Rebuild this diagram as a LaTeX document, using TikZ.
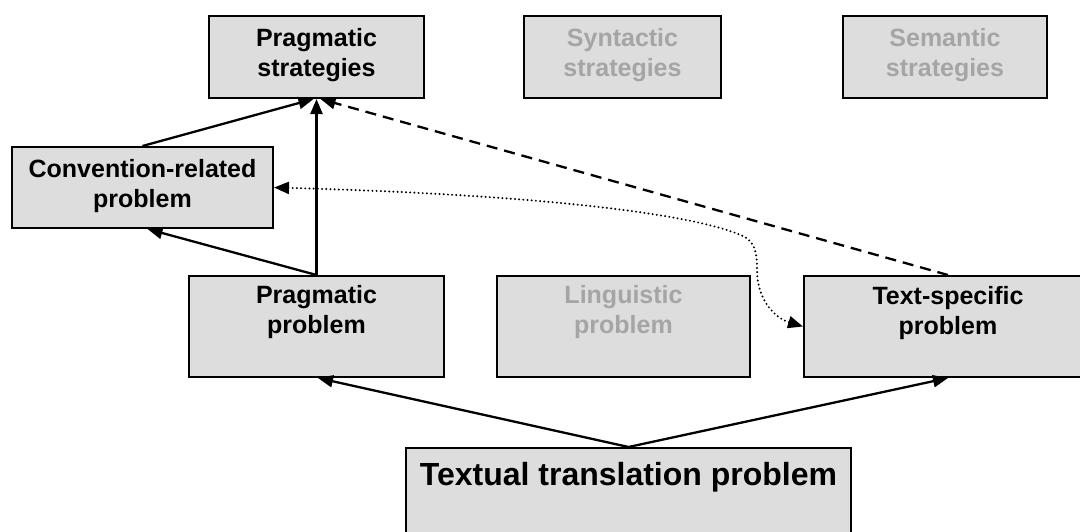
\documentclass[tikz,border=0pt]{standalone}
\usepackage{fontspec}
\setmainfont{Liberation Sans}
\usetikzlibrary{arrows.meta}
\definecolor{boxfill}{RGB}{221,221,221}
\definecolor{faded}{RGB}{165,165,165}
\tikzset{
  box/.style={draw=black, line width=2pt, fill=boxfill, inner sep=0pt, rectangle},
  lbl/.style={anchor=north, inner sep=0pt, align=center, font=\fontsize{25}{30}\selectfont\bfseries},
  biglbl/.style={anchor=north, inner sep=0pt, align=center, font=\fontsize{32}{37}\selectfont\bfseries},
  conn/.style={line width=2.3pt, -{Triangle[length=15pt,width=12pt]}},
  dashconn/.style={conn, dash pattern=on 11pt off 7pt},
  dotconn/.style={line width=2.2pt, line cap=round, dash pattern=on 0pt off 4.2pt,
     {Triangle[length=15pt,width=12pt]}-{Triangle[length=15pt,width=12pt]}},
}
\begin{document}
\begin{tikzpicture}[x=1pt,y=-1pt]
\useasboundingbox (0,0) rectangle (1080,531);
\begin{scope}
\clip (0,0) rectangle (1080,531);
% top row
\node[box, minimum width=215pt, minimum height=82pt] (ps) at (316.5,57) {};
\node[box, minimum width=197pt, minimum height=82pt] (syn) at (622.5,57) {};
\node[box, minimum width=204pt, minimum height=82pt] (sem) at (945,57) {};
% convention
\node[box, minimum width=261pt, minimum height=81pt] (conv) at (142.5,187.5) {};
% middle row
\node[box, minimum width=255pt, minimum height=101pt] (pp) at (316.5,326.5) {};
\node[box, minimum width=253pt, minimum height=101pt] (lp) at (623.5,326.5) {};
\node[box, minimum width=288pt, minimum height=101pt] (ts) at (948,326.5) {};
% bottom
\node[box, minimum width=445pt, minimum height=112pt] (tt) at (628.5,504) {};
\end{scope}

% labels
\node[lbl] (psl) at ([yshift=-13pt]ps.north) {Pragmatic\\strategies};
\node[lbl, text=faded] (synl) at ([yshift=-13pt]syn.north) {Syntactic\\strategies};
\node[lbl, text=faded] (seml) at ([yshift=-13pt]sem.north) {Semantic\\strategies};
\node[lbl] (convl) at ([yshift=-13pt]conv.north) {Convention-related\\problem};
\node[lbl] (ppl) at ([yshift=-10pt]pp.north) {Pragmatic\\problem};
\node[lbl, text=faded] (lpl) at ([yshift=-10pt]lp.north) {Linguistic\\problem};
\node[lbl] (tsl) at ([yshift=-11pt]ts.north) {Text-specific\\problem};
\node[biglbl] (ttl) at ([yshift=-15pt]tt.north) {Textual translation problem};

% connectors
\coordinate (psA) at ([xshift=-3pt]ps.south);
\coordinate (psC) at ([xshift=4pt]ps.south);
\coordinate (convB) at ([xshift=5pt]conv.south);
\coordinate (ppB) at ([xshift=1.5pt]pp.south);
\draw[conn] (conv.north) -- (psA);
\draw[conn] (pp.north) -- (ps.south);
\draw[conn] (pp.north) -- (convB);
\draw[dashconn] (ts.north) -- (psC);
\draw[conn] (tt.north) -- (ppB);
\draw[conn] (tt.north) -- (ts.south);
\draw[dotconn] (conv.east) .. controls (550,195) and (700,215) .. (745,237)
   .. controls (756,244) and (757,255) .. (757,270)
   .. controls (757,300) and (775,318) .. (ts.west);
\end{tikzpicture}
\end{document}
